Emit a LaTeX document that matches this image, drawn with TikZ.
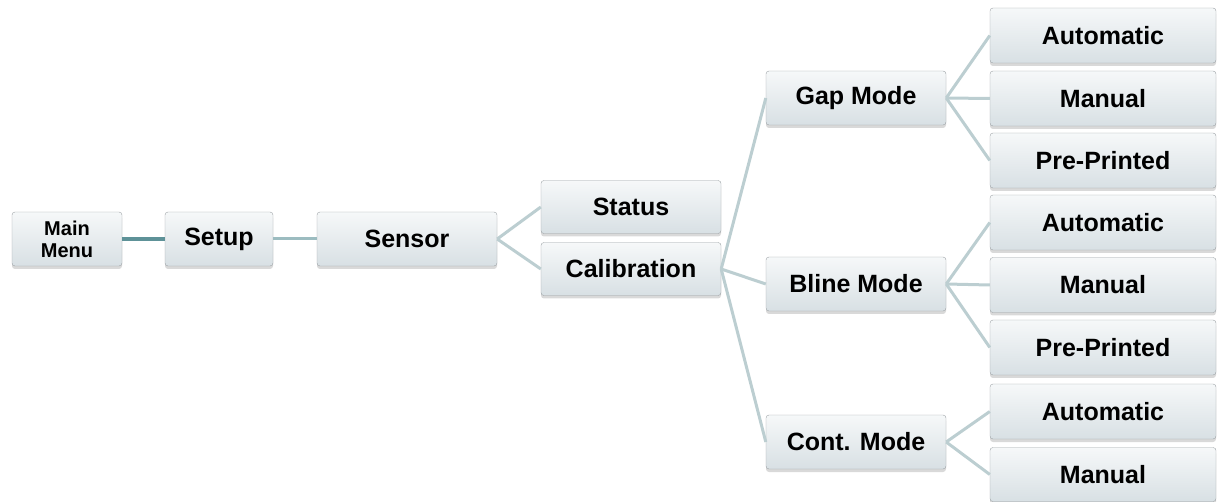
\documentclass[tikz,border=0pt]{standalone}
\usepackage{fontspec}
\setmainfont{Liberation Sans}
\usetikzlibrary{graphs,shadows}

\definecolor{boxtop}{HTML}{F6F8F9}
\definecolor{boxbottom}{HTML}{D8E0E4}
\definecolor{boxline}{HTML}{9DA3A6}
\definecolor{linkdark}{HTML}{5E9298}
\definecolor{linkmid}{HTML}{9CBCC0}
\definecolor{linklight}{HTML}{BCCED1}

\begin{document}
\begin{tikzpicture}[x=1pt, y=-1pt]
\useasboundingbox (0,0) rectangle (1218,502);
\graph [
    nodes={
        rectangle,
        rounded corners=3pt,
        draw=boxline,
        top color=boxtop,       % light at the top
        bottom color=boxbottom, % greyish blue at the bottom
        drop shadow={opacity=0.3, shadow xshift=0pt, shadow yshift=-3pt},
        font=\bfseries\fontsize{25}{28}\selectfont,
        minimum width=180pt,
        minimum height=54pt,
        inner sep=0pt
    },
    edges={
        draw=linklight,
        line width=3pt,
        to path={(\tikztostart.east) -- (\tikztotarget.west)}
    },
    no placement
]
{
    main[as={Main\\Menu}, at={(67,239)}, minimum width=110pt, align=center,
         font=\bfseries\fontsize{20}{22}\selectfont]
    --[draw=linkdark, line width=4pt] setup[as=Setup, at={(219,239)}, minimum width=108pt]
    --[draw=linkmid] sensor[as=Sensor, at={(407,239)}]
    -- {
        status[as=Status, at={(631,207)}, minimum height=53pt],
        calib[as=Calibration, at={(631,269)}, minimum height=53pt] -- {
            gap[as=Gap Mode, at={(856,98)}] -- {
                ga[as=Automatic, at={(1103,35.5)}, minimum width=226pt, minimum height=55pt],
                gm[as=Manual, at={(1103,98.5)}, minimum width=226pt, minimum height=55pt],
                gp[as=Pre-Printed, at={(1103,160.5)}, minimum width=226pt, minimum height=55pt]
            },
            bline[as=Bline Mode, at={(856,284)}] -- {
                ba[as=Automatic, at={(1103,222.5)}, minimum width=226pt, minimum height=55pt],
                bm[as=Manual, at={(1103,285)}, minimum width=226pt, minimum height=55pt],
                bp[as=Pre-Printed, at={(1103,347.5)}, minimum width=226pt, minimum height=55pt]
            },
            cont[as=Cont. Mode, at={(856,442)}] -- {
                ca[as=Automatic, at={(1103,411.5)}, minimum width=226pt, minimum height=55pt],
                cm[as=Manual, at={(1103,474.5)}, minimum width=226pt, minimum height=54pt]
            }
        }
    };
};
\end{tikzpicture}
\end{document}
